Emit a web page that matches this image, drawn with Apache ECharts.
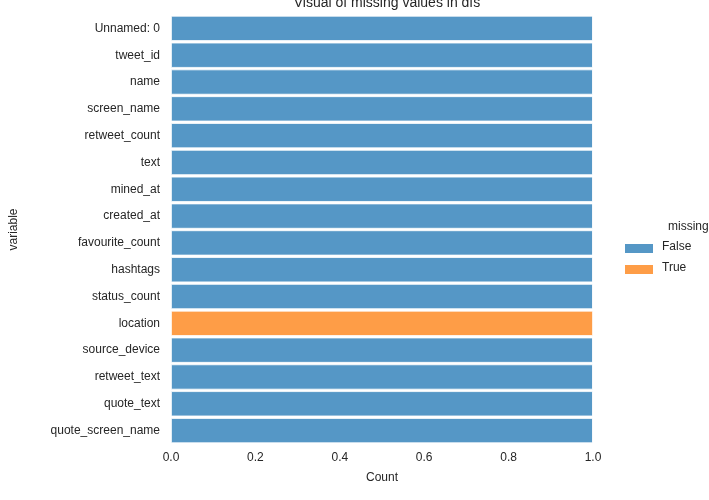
<!DOCTYPE html>
<html><head><meta charset="utf-8">
<script src="https://cdn.jsdelivr.net/npm/echarts@6/dist/echarts.min.js"></script>
<style>body{margin:0}#main{width:709px;height:500px}</style>
</head><body><div id="main"></div>
<script>
var variables = ["Unnamed: 0","tweet_id","name","screen_name","retweet_count","text","mined_at","created_at","favourite_count","hashtags","status_count","location","source_device","retweet_text","quote_text","quote_screen_name"];
var falseValues = [1,1,1,1,1,1,1,1,1,1,1,0,1,1,1,1];
var trueValues = [0,0,0,0,0,0,0,0,0,0,0,1,0,0,0,0];
var xTicks = [0, 0.2, 0.4, 0.6, 0.8, 1.0];

var myChart = echarts.init(document.getElementById("main"));
var font = "Arial, Liberation Sans, sans-serif";
var option = {
    title: {
        text: "Visual of missing values in dfs",
        left: 382, textAlign: "center", top: -9,
        textStyle: { fontSize: 14, fontWeight: "normal", color: "#262626", fontFamily: font }
    },
    graphic: [
        { type: "text", left: 668, top: 221, style: { text: "missing", fontSize: 12, fill: "#262626", fontFamily: font } },
        { type: "rect", shape: { x: 625, y: 244, width: 28, height: 9 }, style: { fill: "#5597c6" } },
        { type: "text", left: 662, top: 241, style: { text: "False", fontSize: 12, fill: "#262626", fontFamily: font } },
        { type: "rect", shape: { x: 625, y: 265, width: 28, height: 9 }, style: { fill: "#fe9d47" } },
        { type: "text", left: 662, top: 262, style: { text: "True", fontSize: 12, fill: "#262626", fontFamily: font } }
    ],
    grid: { left: 171, right: 116, top: 15, bottom: 56 },
    xAxis: {
        type: "value", min: 0, max: 1, interval: 0.2,
        name: "Count", nameLocation: "middle", nameGap: 28,
        nameTextStyle: { fontSize: 12, color: "#262626", fontFamily: font },
        axisLabel: { fontSize: 12, color: "#262626", fontFamily: font, formatter: function (v) { return v.toFixed(1); } },
        axisLine: { show: false }, axisTick: { show: false },
        splitLine: { show: false }
    },
    yAxis: {
        type: "category", data: variables, inverse: true,
        name: "variable", nameLocation: "middle", nameGap: 151,
        nameTextStyle: { fontSize: 12, color: "#262626", fontFamily: font },
        axisLabel: { fontSize: 12, color: "#262626", fontFamily: font, margin: 11 },
        axisLine: { show: false }, axisTick: { show: false }
    },
    series: [
        { name: "False", type: "bar", stack: "s", data: falseValues, barCategoryGap: "6%",
          itemStyle: { color: "#5597c6", borderColor: "#ffffff", borderWidth: 0.8 } },
        { name: "True", type: "bar", stack: "s", data: trueValues,
          itemStyle: { color: "#fe9d47", borderColor: "#ffffff", borderWidth: 0.8 } }
    ]
};
myChart.setOption(option);
</script></body></html>
